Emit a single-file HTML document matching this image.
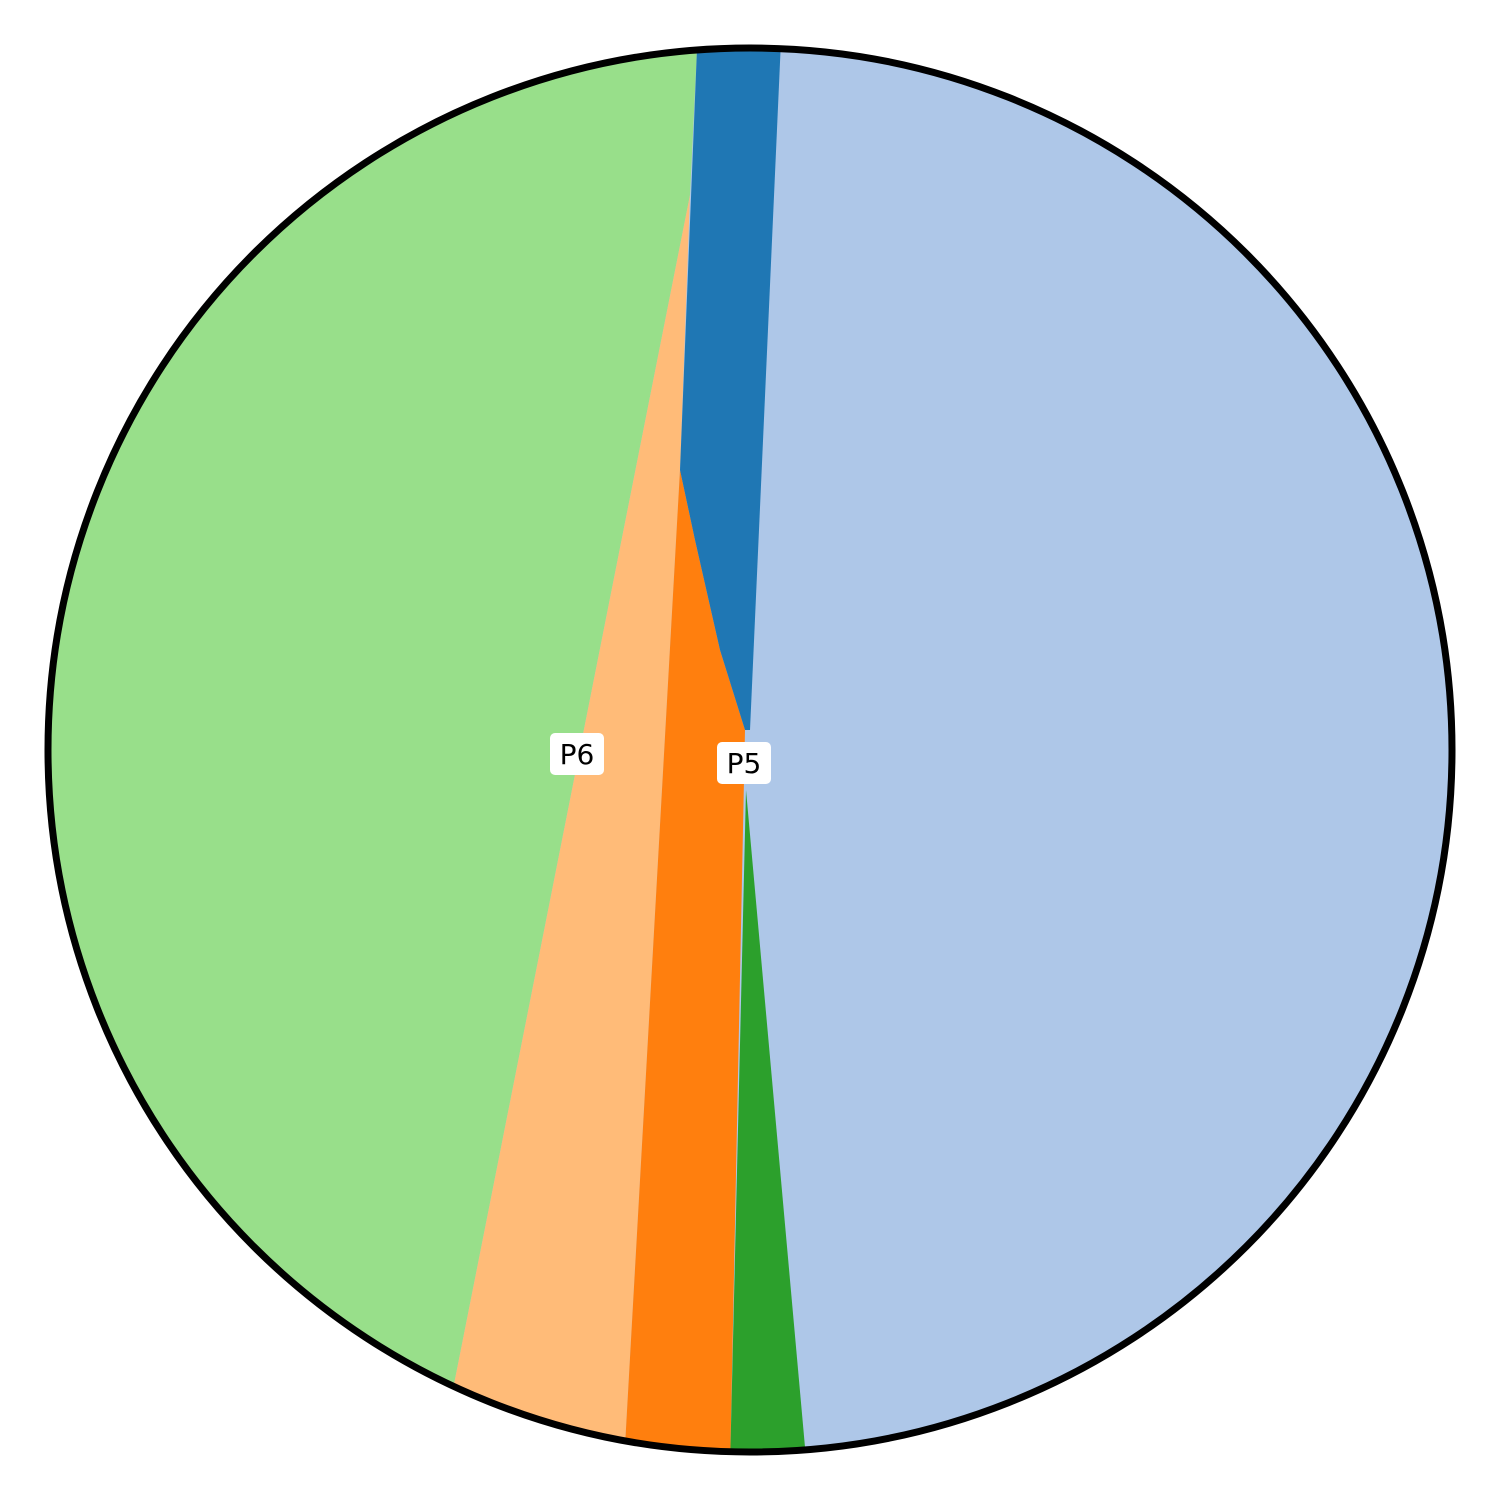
<!DOCTYPE html>
<html><head><meta charset="utf-8"><style>
html,body{margin:0;padding:0;background:#fff;}
svg{display:block;}
</style></head><body>
<svg id="chart" width="1500" height="1500" viewBox="0 0 1500 1500" xmlns="http://www.w3.org/2000/svg">
<g id="slices"></g>
<circle cx="750" cy="750" r="702" fill="none" stroke="#000" stroke-width="7"/>
<g id="labels"></g>
</svg>
<script>
const categories = ["P1","P2","P3","P4","P5","P6"];
const values = [48.1, 1.7, 2.4, 4.1, 41.9, 1.9];
const colors = ["#aec7e8","#2ca02c","#ff7f0e","#ffbb78","#98df8a","#1f77b4"];
const labelTexts = ["P5","P6"];
const startAngle = 2.5;
const cx=750, cy=750, R=702;
const NS="http://www.w3.org/2000/svg";
const total = values.reduce((a,b)=>a+b,0);
function pt(deg){const a=deg*Math.PI/180;return [cx+R*Math.sin(a), cy-R*Math.cos(a)];}
// rim boundary angles
const bounds=[startAngle];
values.forEach(v=>bounds.push(bounds[bounds.length-1]+v/total*360));
function arc(a0,a1){const p0=pt(a0),p1=pt(a1);return `M${p0[0]},${p0[1]} A${R},${R} 0 ${(a1-a0)>180?1:0} 1 ${p1[0]},${p1[1]}`;}
// inner hub geometry (layout)
const blueEdge=[[680,470],[695,540],[720,650],[745,730]];
const inner={
  0:null,
  4:[[690,195]],
  3:[[690,195],[680,470]],
  2:[[680,470],[695,540],[720,650],[745,730]],
  1:[[746,790]],
  5:[[750,730],[745,730],[720,650],[695,540],[680,470]]
};
const g=document.getElementById('slices');
const order=[0,4,3,2,1,5];
order.forEach(i=>{
  const path=document.createElementNS(NS,'path');
  let d;
  if(i===0){ d=`M${cx-R},${cy} A${R},${R} 0 1 1 ${cx+R},${cy} A${R},${R} 0 1 1 ${cx-R},${cy} Z`; }
  else { d=arc(bounds[i],bounds[i+1]); inner[i].forEach(p=>{d+=` L${p[0]},${p[1]}`;}); d+=' Z'; }
  path.setAttribute('d',d);
  path.setAttribute('fill',colors[i]);
  
  
  g.appendChild(path);
});
const lg=document.getElementById('labels');
const labelPos=[[744,763],[577,754]];
labelTexts.forEach((t,i)=>{
  const [x,y]=labelPos[i];
  const grp=document.createElementNS(NS,'g');
  
  
  const rect=document.createElementNS(NS,'rect');
  rect.setAttribute('x',x-27);rect.setAttribute('y',y-21);
  rect.setAttribute('width',54);rect.setAttribute('height',42);
  rect.setAttribute('rx',5);rect.setAttribute('fill','#fff');
  const tx=document.createElementNS(NS,'text');
  tx.setAttribute('x',x);tx.setAttribute('y',y+10);
  tx.setAttribute('text-anchor','middle');
  tx.setAttribute('font-family','"DejaVu Sans", "Liberation Sans", sans-serif');
  tx.setAttribute('font-size','28');
  tx.textContent=t;
  grp.appendChild(rect);grp.appendChild(tx);lg.appendChild(grp);
});
</script>
</body></html>
